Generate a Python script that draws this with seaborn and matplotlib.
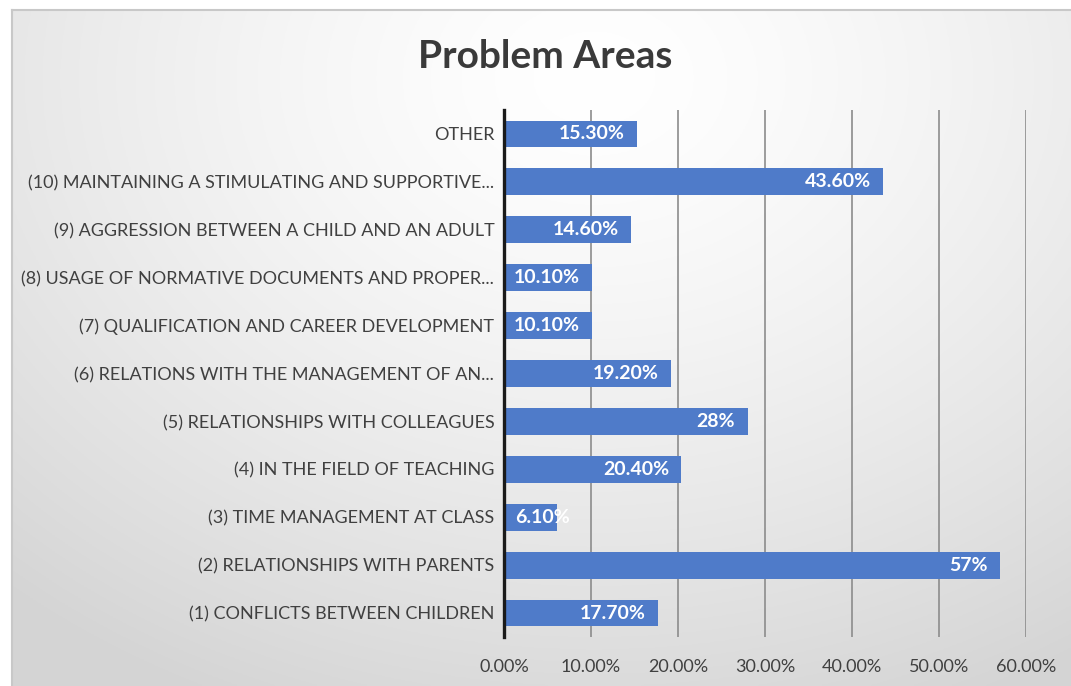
import numpy as np
import pandas as pd
import matplotlib
matplotlib.use("Agg")
import matplotlib.pyplot as plt
import seaborn as sns

categories = [
    "OTHER",
    "(10) MAINTAINING A STIMULATING AND SUPPORTIVE...",
    "(9) AGGRESSION BETWEEN A CHILD AND AN ADULT",
    "(8) USAGE OF NORMATIVE DOCUMENTS AND PROPER...",
    "(7) QUALIFICATION AND CAREER DEVELOPMENT",
    "(6) RELATIONS WITH THE MANAGEMENT OF AN...",
    "(5) RELATIONSHIPS WITH COLLEAGUES",
    "(4) IN THE FIELD OF TEACHING",
    "(3) TIME MANAGEMENT AT CLASS",
    "(2) RELATIONSHIPS WITH PARENTS",
    "(1) CONFLICTS BETWEEN CHILDREN",
]
values = [15.3, 43.6, 14.6, 10.1, 10.1, 19.2, 28.0, 20.4, 6.1, 57.0, 17.7]
value_labels = ["15.30%", "43.60%", "14.60%", "10.10%", "10.10%", "19.20%",
                "28%", "20.40%", "6.10%", "57%", "17.70%"]
x_ticks = [0, 10, 20, 30, 40, 50, 60]
x_tick_labels = ["0.00%", "10.00%", "20.00%", "30.00%", "40.00%", "50.00%", "60.00%"]

df = pd.DataFrame({"area": categories, "share": values})

sns.set_theme(style="white")
plt.rcParams["font.family"] = ["Lato", "DejaVu Sans"]

W, H = 1071, 686
fig = plt.figure(figsize=(W / 100, H / 100), dpi=100)
fig.patch.set_facecolor("white")

# soft radial backdrop inside a thin gray frame
bg = fig.add_axes([12 / W, 0, 1 - 12 / W, 1 - 10 / H])
yy, xx = np.mgrid[0:1:300j, 0:1:400j]
r = np.sqrt(((xx - 0.55) / 0.7) ** 2 + ((yy - 0.1) / 0.85) ** 2)
shade = 1.0 - 0.13 * np.clip(r, 0, 1.2) ** 1.4
bg.imshow(np.dstack([shade] * 3), aspect="auto", extent=[0, 1, 1, 0])
bg.set_xticks([]); bg.set_yticks([])
for side in ["right", "bottom"]:
    bg.spines[side].set_visible(False)
for side in ["top", "left"]:
    bg.spines[side].set_color("#c8c8c8")
    bg.spines[side].set_linewidth(1.5)

ax = fig.add_axes([504 / W, 1 - 637 / H, (1026 - 504) / W, (637 - 110) / H])
ax.patch.set_alpha(0)

sns.barplot(data=df, x="share", y="area", orient="h", color="#4f7bc9",
            saturation=1, width=0.56, linewidth=0, ax=ax)

ax.set_xlim(0, 60)
ax.set_xticks(x_ticks)
ax.set_xticklabels(x_tick_labels, fontsize=13, color="#404040")
ax.tick_params(axis="x", length=0, pad=16)
ax.tick_params(axis="y", length=0, pad=7, labelsize=13, labelcolor="#404040")
ax.set_xlabel("")
ax.set_ylabel("")
ax.grid(axis="x", color="#8c8c8c", linewidth=1.2)
ax.set_axisbelow(True)
for side in ["top", "right", "bottom"]:
    ax.spines[side].set_visible(False)
ax.spines["left"].set_color("#1a1a1a")
ax.spines["left"].set_linewidth(2.4)
ax.spines["left"].set_zorder(5)

# value labels, white bold at the inside end of each bar
for i, (v, lab) in enumerate(zip(values, value_labels)):
    if v < 8:
        ax.annotate(lab, xy=(0, i), xytext=(8, 0), textcoords="offset points",
                    ha="left", va="center", color="white", fontsize=14,
                    fontweight="bold")
    else:
        ax.annotate(lab, xy=(v, i), xytext=(-9, 0), textcoords="offset points",
                    ha="right", va="center", color="white", fontsize=14,
                    fontweight="bold")

fig.text(545 / W, 1 - 57 / H, "Problem Areas", ha="center", va="center",
         fontsize=28, fontweight="bold", color="#3a3a3a")

fig.savefig("out.png", dpi=100)
